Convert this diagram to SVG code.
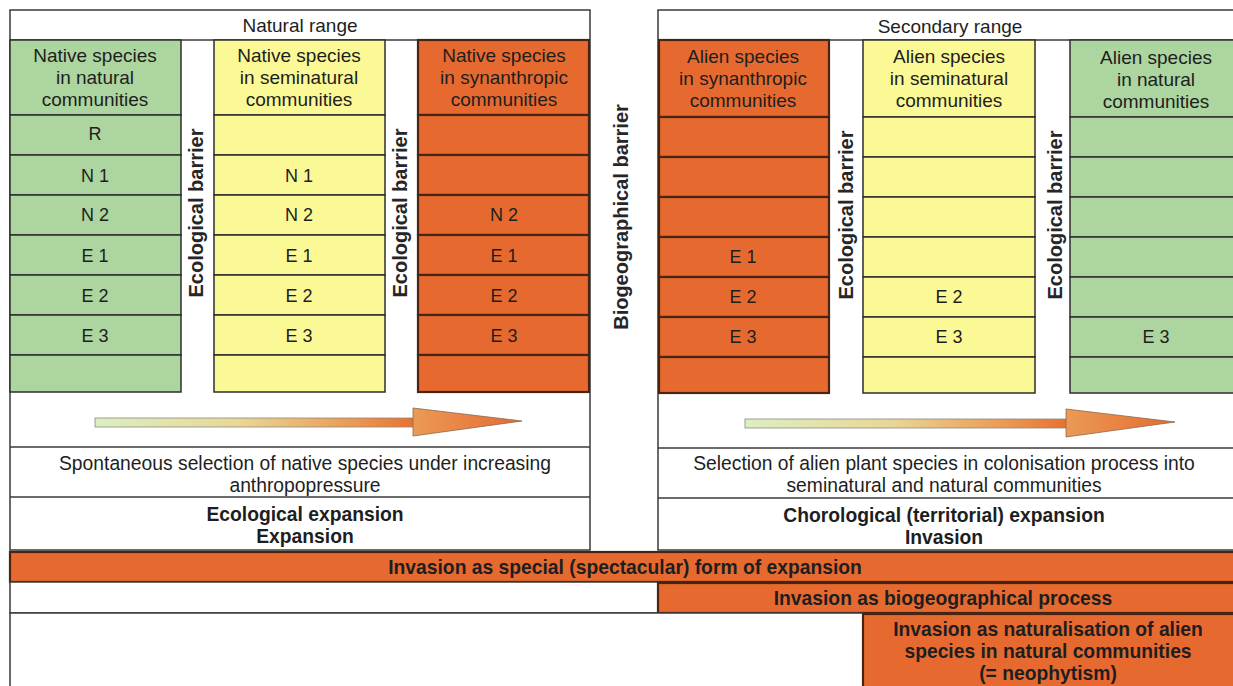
<svg xmlns="http://www.w3.org/2000/svg" width="1233" height="686" viewBox="0 0 1233 686">
  <defs>
    <style>
      text { font-family: "Liberation Sans", Arial, sans-serif; fill: #1e1e1e; text-anchor: middle; }
      .hd { font-size: 19px; }
      .lbl { font-size: 18px; }
      .desc { font-size: 19.3px; }
      .bold { font-size: 19.3px; font-weight: bold; }
      .vert { font-size: 20px; font-weight: bold; fill: #262626; }
      .frame { fill: #fff; stroke: #3a3a3a; stroke-width: 1.5; }
      .green { fill: #acd5a0; stroke: #2e2e2e; stroke-width: 1.5; }
      .yellow { fill: #fbf996; stroke: #2e2e2e; stroke-width: 1.5; }
      .orange { fill: #e66a30; stroke: #4a2412; stroke-width: 2.2; }
      .bar { fill: #e66a30; stroke: #4a2412; stroke-width: 2.2; }
      .shaft { stroke: #8a8a7a; stroke-width: 0.8; }
    </style>
    <linearGradient id="arrowGrad" x1="0" y1="0" x2="1" y2="0">
      <stop offset="0" stop-color="#dcefc4"/>
      <stop offset="0.45" stop-color="#e9d796"/>
      <stop offset="0.8" stop-color="#ec9a55"/>
      <stop offset="1" stop-color="#e8702f"/>
    </linearGradient>
    <linearGradient id="headGrad" x1="0" y1="0" x2="1" y2="0">
      <stop offset="0" stop-color="#eb9a55"/>
      <stop offset="1" stop-color="#e66a30"/>
    </linearGradient>
  </defs>

  <rect width="1233" height="686" fill="#fff"/>

  <!-- Range frames -->
  <g id="natural-range">
    <rect class="frame" x="10" y="10" width="580" height="540"/>
    <line x1="10" y1="40" x2="590" y2="40" stroke="#3a3a3a" stroke-width="1.5"/>
    <text class="hd" x="300" y="32">Natural range</text>
  </g>
  <g id="secondary-range">
    <rect class="frame" x="658" y="10" width="580" height="540"/>
    <line x1="658" y1="40" x2="1233" y2="40" stroke="#3a3a3a" stroke-width="1.5"/>
    <text class="hd" x="950" y="33">Secondary range</text>
  </g>

  <!-- Native species in natural communities -->
  <g id="native-natural">
    <rect class="green" x="10" y="40" width="171" height="75"/>
    <rect class="green" x="10" y="115" width="171" height="40"/>
    <rect class="green" x="10" y="155" width="171" height="40"/>
    <rect class="green" x="10" y="195" width="171" height="40"/>
    <rect class="green" x="10" y="235" width="171" height="40"/>
    <rect class="green" x="10" y="275" width="171" height="40"/>
    <rect class="green" x="10" y="315" width="171" height="40"/>
    <rect class="green" x="10" y="355" width="171" height="37"/>
    <text class="hd" x="95" y="62">Native species</text>
    <text class="hd" x="95" y="84">in natural</text>
    <text class="hd" x="95" y="106">communities</text>
    <text class="lbl" x="95" y="140">R</text>
    <text class="lbl" x="95" y="182">N 1</text>
    <text class="lbl" x="95" y="221">N 2</text>
    <text class="lbl" x="95" y="262">E 1</text>
    <text class="lbl" x="95" y="302">E 2</text>
    <text class="lbl" x="95" y="342">E 3</text>
  </g>

  <!-- Native species in seminatural communities -->
  <g id="native-seminatural">
    <rect class="yellow" x="214" y="40" width="171" height="75"/>
    <rect class="yellow" x="214" y="115" width="171" height="40"/>
    <rect class="yellow" x="214" y="155" width="171" height="40"/>
    <rect class="yellow" x="214" y="195" width="171" height="40"/>
    <rect class="yellow" x="214" y="235" width="171" height="40"/>
    <rect class="yellow" x="214" y="275" width="171" height="40"/>
    <rect class="yellow" x="214" y="315" width="171" height="40"/>
    <rect class="yellow" x="214" y="355" width="171" height="37"/>
    <text class="hd" x="299" y="62">Native species</text>
    <text class="hd" x="299" y="84">in seminatural</text>
    <text class="hd" x="299" y="106">communities</text>
    <text class="lbl" x="299" y="182">N 1</text>
    <text class="lbl" x="299" y="221">N 2</text>
    <text class="lbl" x="299" y="262">E 1</text>
    <text class="lbl" x="299" y="302">E 2</text>
    <text class="lbl" x="299" y="342">E 3</text>
  </g>

  <!-- Native species in synanthropic communities -->
  <g id="native-synanthropic">
    <rect class="orange" x="418" y="40" width="171" height="75"/>
    <rect class="orange" x="418" y="115" width="171" height="40"/>
    <rect class="orange" x="418" y="155" width="171" height="40"/>
    <rect class="orange" x="418" y="195" width="171" height="40"/>
    <rect class="orange" x="418" y="235" width="171" height="40"/>
    <rect class="orange" x="418" y="275" width="171" height="40"/>
    <rect class="orange" x="418" y="315" width="171" height="40"/>
    <rect class="orange" x="418" y="355" width="171" height="37"/>
    <text class="hd" x="504" y="62">Native species</text>
    <text class="hd" x="504" y="84">in synanthropic</text>
    <text class="hd" x="504" y="106">communities</text>
    <text class="lbl" x="504" y="221">N 2</text>
    <text class="lbl" x="504" y="262">E 1</text>
    <text class="lbl" x="504" y="302">E 2</text>
    <text class="lbl" x="504" y="342">E 3</text>
  </g>

  <!-- Alien species in synanthropic communities -->
  <g id="alien-synanthropic">
    <rect class="orange" x="659" y="40" width="170" height="77"/>
    <rect class="orange" x="659" y="117" width="170" height="40"/>
    <rect class="orange" x="659" y="157" width="170" height="40"/>
    <rect class="orange" x="659" y="197" width="170" height="40"/>
    <rect class="orange" x="659" y="237" width="170" height="40"/>
    <rect class="orange" x="659" y="277" width="170" height="40"/>
    <rect class="orange" x="659" y="317" width="170" height="40"/>
    <rect class="orange" x="659" y="357" width="170" height="36"/>
    <text class="hd" x="743" y="63">Alien species</text>
    <text class="hd" x="743" y="85">in synanthropic</text>
    <text class="hd" x="743" y="107">communities</text>
    <text class="lbl" x="743" y="263">E 1</text>
    <text class="lbl" x="743" y="303">E 2</text>
    <text class="lbl" x="743" y="343">E 3</text>
  </g>

  <!-- Alien species in seminatural communities -->
  <g id="alien-seminatural">
    <rect class="yellow" x="863" y="40" width="172" height="77"/>
    <rect class="yellow" x="863" y="117" width="172" height="40"/>
    <rect class="yellow" x="863" y="157" width="172" height="40"/>
    <rect class="yellow" x="863" y="197" width="172" height="40"/>
    <rect class="yellow" x="863" y="237" width="172" height="40"/>
    <rect class="yellow" x="863" y="277" width="172" height="40"/>
    <rect class="yellow" x="863" y="317" width="172" height="40"/>
    <rect class="yellow" x="863" y="357" width="172" height="36"/>
    <text class="hd" x="949" y="63">Alien species</text>
    <text class="hd" x="949" y="85">in seminatural</text>
    <text class="hd" x="949" y="107">communities</text>
    <text class="lbl" x="949" y="303">E 2</text>
    <text class="lbl" x="949" y="343">E 3</text>
  </g>

  <!-- Alien species in natural communities -->
  <g id="alien-natural">
    <rect class="green" x="1070" y="40" width="170" height="77"/>
    <rect class="green" x="1070" y="117" width="170" height="40"/>
    <rect class="green" x="1070" y="157" width="170" height="40"/>
    <rect class="green" x="1070" y="197" width="170" height="40"/>
    <rect class="green" x="1070" y="237" width="170" height="40"/>
    <rect class="green" x="1070" y="277" width="170" height="40"/>
    <rect class="green" x="1070" y="317" width="170" height="40"/>
    <rect class="green" x="1070" y="357" width="170" height="36"/>
    <text class="hd" x="1156" y="64">Alien species</text>
    <text class="hd" x="1156" y="86">in natural</text>
    <text class="hd" x="1156" y="108">communities</text>
    <text class="lbl" x="1156" y="343">E 3</text>
  </g>

  <!-- Barrier labels -->
  <g id="barriers">
    <text class="vert" transform="translate(203 213) rotate(-90)">Ecological barrier</text>
    <text class="vert" transform="translate(407 213) rotate(-90)">Ecological barrier</text>
    <text class="vert" transform="translate(628 217) rotate(-90)">Biogeographical barrier</text>
    <text class="vert" transform="translate(853 215) rotate(-90)">Ecological barrier</text>
    <text class="vert" transform="translate(1062 215) rotate(-90)">Ecological barrier</text>
  </g>

  <!-- Process bands below the columns -->
  <g id="ecological-process">
    <line x1="10" y1="447" x2="590" y2="447" stroke="#3a3a3a" stroke-width="1.5"/>
    <line x1="10" y1="497" x2="590" y2="497" stroke="#3a3a3a" stroke-width="1.5"/>
    <text class="desc" x="305" y="470">Spontaneous selection of native species under increasing</text>
    <text class="desc" x="305" y="492">anthropopressure</text>
    <text class="bold" x="305" y="521">Ecological expansion</text>
    <text class="bold" x="305" y="543">Expansion</text>
  </g>
  <g id="chorological-process">
    <line x1="658" y1="448" x2="1233" y2="448" stroke="#3a3a3a" stroke-width="1.5"/>
    <line x1="658" y1="498" x2="1233" y2="498" stroke="#3a3a3a" stroke-width="1.5"/>
    <text class="desc" x="944" y="470">Selection of alien plant species in colonisation process into</text>
    <text class="desc" x="944" y="492">seminatural and natural communities</text>
    <text class="bold" x="944" y="522">Chorological (territorial) expansion</text>
    <text class="bold" x="944" y="544">Invasion</text>
  </g>

  <!-- Gradient arrows -->
  <g id="connectors">
    <rect class="shaft" x="95" y="418" width="320" height="9" fill="url(#arrowGrad)"/>
    <polygon points="413,408 522,421 413,436" fill="url(#headGrad)" stroke="#8a6a50" stroke-width="0.8"/>
    <rect class="shaft" x="745" y="419" width="323" height="9" fill="url(#arrowGrad)"/>
    <polygon points="1066,409 1175,422 1066,437" fill="url(#headGrad)" stroke="#8a6a50" stroke-width="0.8"/>
  </g>

  <!-- Invasion bars -->
  <g id="invasion-expansion">
    <rect class="bar" x="10" y="552" width="1230" height="30"/>
    <text class="bold" x="625" y="574">Invasion as special (spectacular) form of expansion</text>
  </g>
  <g id="invasion-biogeographical">
    <rect class="frame" x="10" y="582" width="648" height="31"/>
    <rect class="bar" x="658" y="583" width="582" height="30"/>
    <text class="bold" x="943" y="605">Invasion as biogeographical process</text>
  </g>
  <g id="invasion-naturalisation">
    <rect class="frame" x="10" y="613" width="853" height="80"/>
    <rect class="bar" x="863" y="614" width="377" height="80"/>
    <text class="bold" x="1048" y="636">Invasion as naturalisation of alien</text>
    <text class="bold" x="1048" y="658">species in natural communities</text>
    <text class="bold" x="1048" y="680">(= neophytism)</text>
  </g>
</svg>
